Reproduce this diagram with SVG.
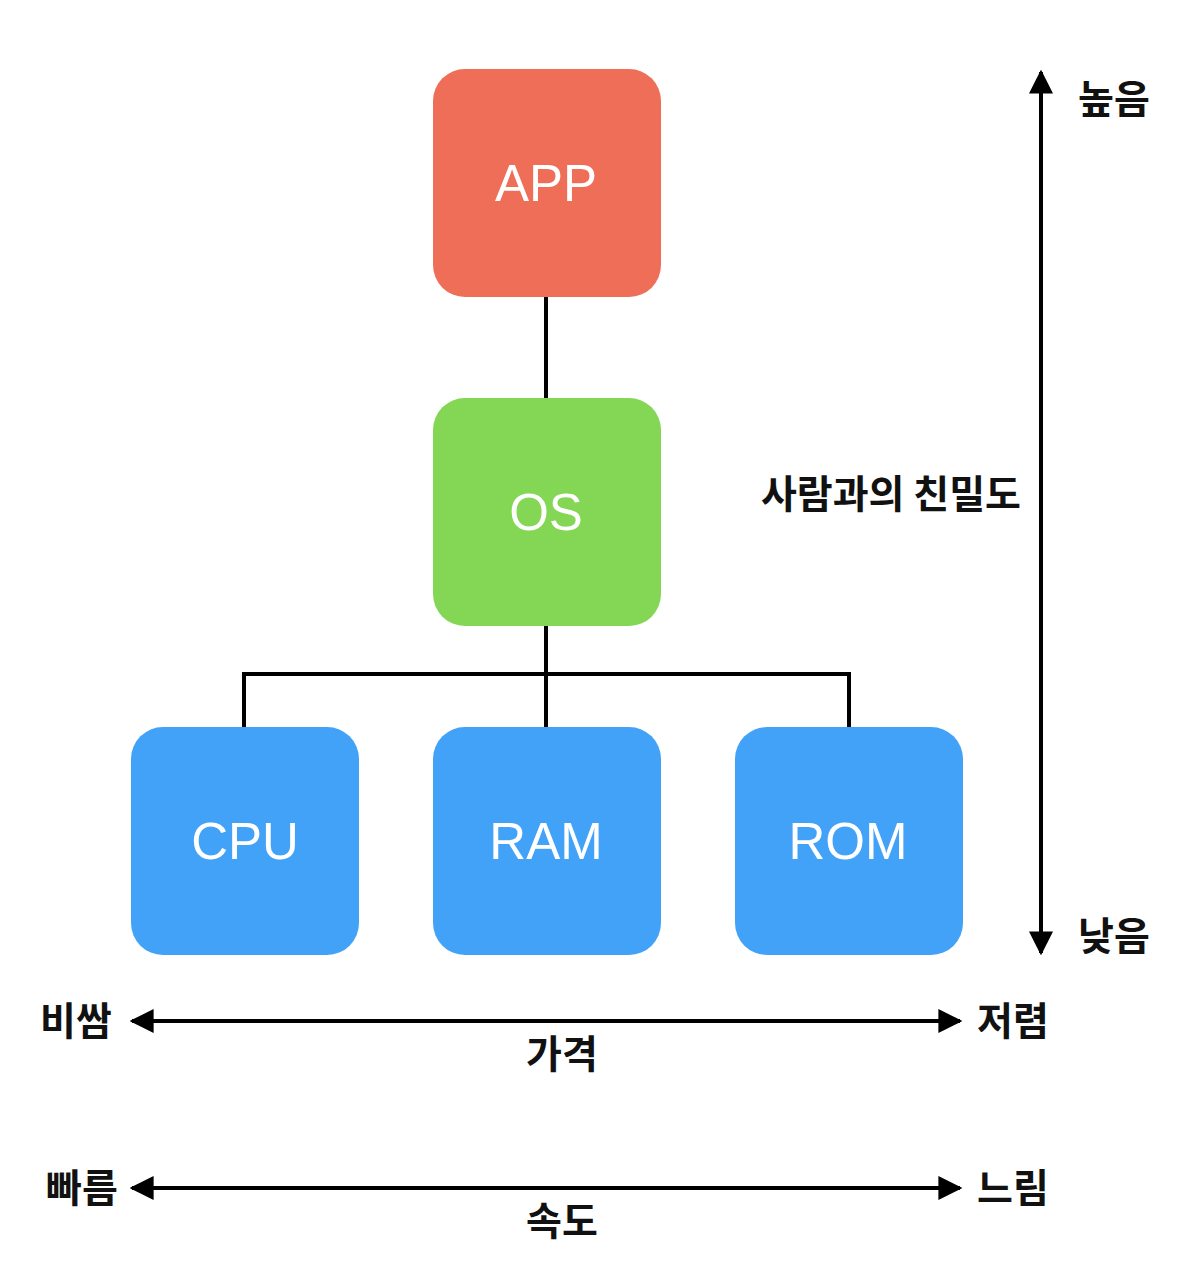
<svg xmlns="http://www.w3.org/2000/svg" width="1204" height="1276" viewBox="0 0 1204 1276">
<style>
.box{stroke:none}
.lbl{font-family:"Liberation Sans",Arial,sans-serif;font-size:51px;fill:#fff;text-anchor:middle;dominant-baseline:central}
.kr{font-family:"Noto Sans CJK KR","Noto Sans",sans-serif;font-size:39px;font-weight:bold;fill:#111;text-anchor:middle;dominant-baseline:central}
.ln{stroke:#000;stroke-width:4;fill:none}
</style>
<defs>
<marker id="ah" viewBox="0 0 10 10" refX="9" refY="5" markerWidth="6" markerHeight="6" orient="auto-start-reverse" markerUnits="strokeWidth">
<path d="M0,0 L10,5 L0,10 z" fill="#000"/>
</marker>
</defs>
<rect width="1204" height="1276" fill="#fff"/>
<g id="connectors">
<path class="ln" d="M546,297 V398"/>
<path class="ln" d="M546,626 V674 M244,727 V674 H849 V727 M546,674 V727"/>
<path class="ln" d="M1041,72 V953" marker-start="url(#ah)" marker-end="url(#ah)"/>
<path class="ln" d="M132,1021 H960" marker-start="url(#ah)" marker-end="url(#ah)"/>
<path class="ln" d="M132,1188 H960" marker-start="url(#ah)" marker-end="url(#ah)"/>
</g>
<g id="app"><rect class="box" x="433" y="69" width="228" height="228" rx="32" fill="#EE6E58"/><text class="lbl" x="546" y="183">APP</text></g>
<g id="os"><rect class="box" x="433" y="398" width="228" height="228" rx="32" fill="#84D655"/><text class="lbl" x="546" y="512">OS</text></g>
<g id="cpu"><rect class="box" x="131" y="727" width="228" height="228" rx="32" fill="#42A2F8"/><text class="lbl" x="245" y="841">CPU</text></g>
<g id="ram"><rect class="box" x="433" y="727" width="228" height="228" rx="32" fill="#42A2F8"/><text class="lbl" x="546" y="841">RAM</text></g>
<g id="rom"><rect class="box" x="735" y="727" width="228" height="228" rx="32" fill="#42A2F8"/><text class="lbl" x="848" y="841">ROM</text></g>
<g id="labels">
<text class="kr" x="1114" y="96">높음</text>
<text class="kr" x="1114" y="933">낮음</text>
<text class="kr" x="891" y="491">사람과의 친밀도</text>
<text class="kr" x="76" y="1018">비쌈</text>
<text class="kr" x="1013" y="1018">저렴</text>
<text class="kr" x="562" y="1051">가격</text>
<text class="kr" x="82" y="1185">빠름</text>
<text class="kr" x="1013" y="1185">느림</text>
<text class="kr" x="562" y="1218">속도</text>
</g>
</svg>
